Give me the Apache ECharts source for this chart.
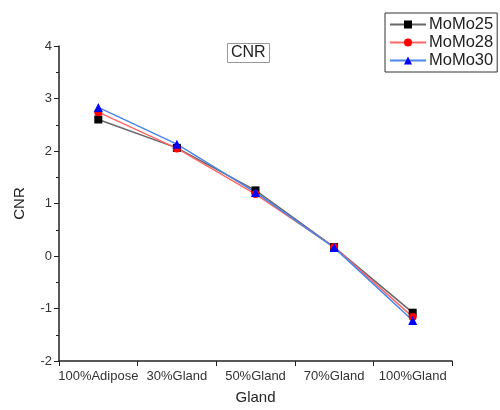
<!DOCTYPE html>
<html>
<head>
<meta charset="utf-8">
<script src="https://cdn.jsdelivr.net/npm/echarts@6/dist/echarts.min.js"></script>
<style>html,body{margin:0;padding:0;background:#fff}#c{width:500px;height:410px}</style>
</head>
<body>
<div id="c"></div>
<script>
const categories = ['100%Adipose', '30%Gland', '50%Gland', '70%Gland', '100%Gland'];
const momo25 = [2.60, 2.06, 1.25, 0.17, -1.08];
const momo28 = [2.74, 2.05, 1.18, 0.17, -1.16];
const momo30 = [2.83, 2.13, 1.21, 0.16, -1.23];
const seriesNames = ['MoMo25', 'MoMo28', 'MoMo30'];
const yTicks = [-2, -1, 0, 1, 2, 3, 4];

const font = 'Arial, "Liberation Sans", sans-serif';
const chart = echarts.init(document.getElementById('c'));
chart.setOption({
  animation: false,
  title: {
    text: 'CNR', left: 227, top: 43,
    borderColor: '#999', borderWidth: 1, padding: [2, 4, 2, 4],
    textStyle: { fontFamily: font, fontSize: 16, fontWeight: 'normal', color: '#222' }
  },
  legend: {
    orient: 'vertical', left: 385, top: 13,
    borderColor: '#333', borderWidth: 1, padding: [3, 4, 3, 4],
    itemGap: 1, itemWidth: 36, itemHeight: 10,
    textStyle: { fontFamily: font, fontSize: 16.5, color: '#222', padding: [0, 0, 0, -2] },
    data: seriesNames
  },
  grid: { left: 59, right: 48, top: 46, bottom: 46 },
  xAxis: [{
    type: 'category', data: categories, boundaryGap: true,
    name: 'Gland', nameLocation: 'middle', nameGap: 29,
    nameTextStyle: { fontFamily: font, fontSize: 15, color: '#222' },
    axisLine: { onZero: false, lineStyle: { color: '#222', width: 1.5 } },
    axisTick: { alignWithLabel: true, interval: 0, length: 5, lineStyle: { color: '#222' } },
    axisLabel: { interval: 0, hideOverlap: false, fontFamily: font, fontSize: 13, color: '#333', margin: 9 },
    splitLine: { show: false }
  }, {
    type: 'category', data: categories, boundaryGap: true, position: 'bottom',
    axisLine: { show: false, onZero: false },
    axisTick: { show: true, interval: 0, length: 5, lineStyle: { color: '#222' } },
    axisLabel: { show: false }, splitLine: { show: false }
  }],
  yAxis: {
    type: 'value', min: yTicks[0], max: yTicks[yTicks.length - 1], interval: 1,
    name: 'CNR', nameLocation: 'middle', nameGap: 32,
    nameTextStyle: { fontFamily: font, fontSize: 15, color: '#222' },
    axisLine: { show: true, lineStyle: { color: '#222', width: 1.5 } },
    axisTick: { show: true, length: 5, lineStyle: { color: '#222' } },
    minorTick: { show: true, splitNumber: 2, length: 3, lineStyle: { color: '#222' } },
    axisLabel: { fontFamily: font, fontSize: 13, color: '#333', margin: 7 },
    splitLine: { show: false }
  },
  series: [
    { name: seriesNames[0], type: 'line', data: momo25, symbol: 'rect', symbolSize: 8,
      itemStyle: { color: '#000' }, lineStyle: { color: '#666', width: 1.5 } },
    { name: seriesNames[1], type: 'line', data: momo28, symbol: 'circle', symbolSize: 8,
      itemStyle: { color: '#ff0000' }, lineStyle: { color: '#ff6666', width: 1.5 } },
    { name: seriesNames[2], type: 'line', data: momo30, symbol: 'triangle', symbolSize: 9,
      itemStyle: { color: '#0000ff' }, lineStyle: { color: '#4a86e8', width: 1.5 } }
  ]
});
</script>
</body>
</html>
